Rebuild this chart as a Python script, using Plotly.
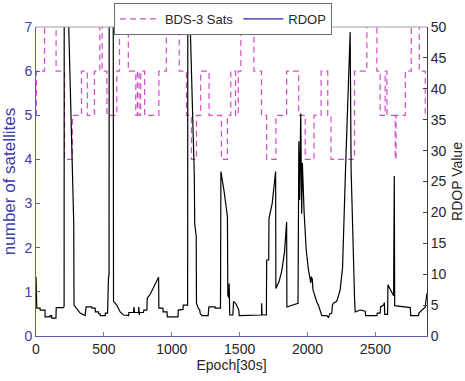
import plotly.graph_objects as go

# ---- data ----
sat_epochs = [0, 3, 63, 148, 210, 268, 335, 378, 430, 470, 487, 522, 595, 615, 680,
              735, 747, 759, 771, 800, 905, 960, 1055, 1108, 1145, 1182, 1213, 1275,
              1366, 1410, 1435, 1470, 1490, 1509, 1605, 1661, 1699, 1767, 1846, 1935,
              1983, 2048, 2100, 2149, 2173, 2346, 2437, 2511, 2535, 2572, 2585, 2646,
              2652, 2720, 2764, 2823, 2867, 2880]
sat_counts = [5, 6, 8, 6, 4, 5, 6, 5, 6, 8, 6, 5, 6, 8, 6,
              5, 6, 5, 6, 5, 6, 8, 6, 5, 4, 5, 6, 5,
              4, 5, 6, 5, 6, 8, 6, 5, 4, 5, 6, 5,
              4, 5, 6, 5, 4, 6, 8, 6, 5, 6, 5, 4,
              5, 6, 8, 6, 5, 5]

rdop_epochs = [0, 6, 30, 31, 66, 67, 103, 104, 115, 116, 147, 149, 202, 207, 209, 230, 240,
               268, 272, 278, 280, 300, 325, 362, 369, 411, 412, 436, 437, 460, 461, 472,
               473, 510, 511, 527, 529, 534, 538, 541, 566, 571, 595, 620, 645, 682, 684,
               718, 722, 726, 755, 757, 761, 763, 792, 794, 817, 819, 842, 870, 903, 905,
               935, 937, 965, 967, 1046, 1048, 1083, 1085, 1117, 1120, 1128, 1135, 1166,
               1169, 1180, 1182, 1195, 1206, 1210, 1223, 1268, 1273, 1319, 1320, 1359,
               1362, 1385, 1410, 1413, 1420, 1423, 1427, 1450, 1455, 1470, 1484, 1494,
               1497, 1607, 1609, 1661, 1662, 1665, 1697, 1699, 1714, 1716, 1740, 1765,
               1767, 1790, 1810, 1830, 1846, 1848, 1930, 1936, 1942, 1950, 1957, 1962,
               1975, 1990, 2006, 2018, 2024, 2028, 2035, 2040, 2055, 2068, 2080, 2092,
               2105, 2142, 2154, 2166, 2179, 2183, 2191, 2215, 2240, 2258, 2270, 2280,
               2314, 2321, 2346, 2351, 2388, 2425, 2428, 2511, 2514, 2535, 2538, 2560,
               2566, 2569, 2590, 2592, 2634, 2639, 2642, 2720, 2757, 2760, 2818, 2820,
               2843, 2868, 2870, 2880]
rdop_values = [9.6, 4.5, 4.5, 4.2, 4.2, 3.1, 3.1, 3.3, 3.3, 2.9, 2.9, 4.6, 4.6, 4.8, 120, 110, 51,
               25, 20.4, 18.2, 5.0, 4.5, 3.7, 3.3, 4.7, 4.7, 4.5, 4.5, 3.9, 3.9, 3.6, 3.6,
               3.3, 3.3, 3.7, 3.7, 9.1, 9.5, 9.8, 120, 120, 5.6, 5.0, 3.9, 3.4, 3.3, 3.8,
               3.8, 4.7, 3.8, 3.8, 4.7, 3.4, 3.8, 3.8, 4.2, 4.2, 6.1, 6.8, 8.0, 9.5, 4.5,
               4.5, 3.9, 3.9, 3.1, 3.1, 4.2, 4.3, 5.0, 5.0, 120, 110, 51, 26,
               18.2, 16.1, 5.3, 4.5, 4.2, 3.6, 3.3, 3.3, 4.7, 4.7, 4.5, 4.5,
               26.6, 23.5, 19.3, 6.6, 6.2, 8.5, 3.4, 3.4, 5.6, 5.3, 4.7, 4.2,
               3.3, 3.3, 3.4, 3.4, 5.3, 3.4, 3.4, 12.3, 12.3, 19.0, 21.5, 26.6,
               7.7, 8.8, 10.5, 13.5, 18.5, 4.7, 5.3, 31.5, 22, 36, 19.8, 28,
               20, 14, 10.8, 9.6, 8.6, 9.6, 9.2, 7.5, 6.3, 5.5, 5.0, 4.2,
               3.3, 3.3, 3.0, 3.6, 3.7, 5.0, 5.3, 5.6, 7.4, 11, 18, 27,
               49.2, 27, 6.4, 3.9, 4.2, 4.0, 3.3, 3.3, 3.7, 3.7, 4.7, 5.0,
               5.4, 3.5, 3.5, 8.3, 6.5, 25.9, 4.9, 4.7, 4.6, 3.3, 3.3, 3.7,
               4.2, 4.7, 5.3, 6.9]

x_ticks = [0, 500, 1000, 1500, 2000, 2500]
left_ticks = [0, 1, 2, 3, 4, 5, 6, 7]
right_ticks = [0, 5, 10, 15, 20, 25, 30, 35, 40, 45, 50]

BLUE = "#3c3cac"
BLUE_LINE = "#5a5ab8"
MAGENTA = "#d24fc8"
FONT = "Arial, Liberation Sans, sans-serif"

fig = go.Figure()
fig.add_trace(go.Scatter(
    x=sat_epochs, y=sat_counts, mode="lines", name="BDS-3 Sats",
    line=dict(color=MAGENTA, width=1.2, dash="6px,4px", shape="hv"),
    yaxis="y"))
fig.add_trace(go.Scatter(
    x=rdop_epochs, y=rdop_values, mode="lines", name="RDOP", showlegend=False,
    line=dict(color="black", width=1.2), yaxis="y2"))
fig.add_trace(go.Scatter(
    x=[None], y=[None], mode="lines", name="RDOP",
    line=dict(color="#2a2a9a", width=1.1), yaxis="y2"))

fig.update_layout(
    width=465, height=381,
    margin=dict(l=36, r=38, t=27, b=45, autoexpand=False),
    paper_bgcolor="white", plot_bgcolor="white",
    font=dict(family=FONT, size=14, color="#262626"),
    showlegend=True,
    legend=dict(orientation="h", x=0.478, xanchor="center", y=1.078, yanchor="top",
                bordercolor="#6e6e6e", borderwidth=1, bgcolor="white",
                font=dict(size=13, color="#262626"),
                itemwidth=40, tracegroupgap=0),
    xaxis=dict(range=[0, 2880], tickvals=x_ticks, ticks="inside", ticklen=4,
               tickcolor="#7a7a7a", showline=True, linecolor=BLUE_LINE, linewidth=1,
               showgrid=False, zeroline=False, automargin=False,
               title=dict(text="Epoch[30s]", standoff=2, font=dict(size=14)),
               tickfont=dict(size=14, color="#262626")),
    yaxis=dict(range=[0, 7], tickvals=left_ticks, ticks="inside", ticklen=4,
               tickcolor=BLUE_LINE, showline=True, linecolor=BLUE_LINE, linewidth=1,
               showgrid=False, zeroline=False, automargin=False,
               tickfont=dict(size=14, color=BLUE),
               title=dict(text="number of satellites", standoff=4,
                          font=dict(size=17, color=BLUE))),
    yaxis2=dict(range=[0, 50], tickvals=right_ticks, overlaying="y", side="right",
                ticks="inside", ticklen=4, tickcolor="#404040",
                showline=True, linecolor="#404040", linewidth=1,
                showgrid=False, zeroline=False, automargin=False,
                tickfont=dict(size=14, color="#262626"),
                title=dict(text="RDOP Value", standoff=11,
                           font=dict(size=14, color="#262626"))),
    shapes=[dict(type="line", xref="paper", yref="paper", x0=0, x1=1, y0=1, y1=1,
                 line=dict(color="#a0a0a0", width=1))],
)

fig.write_html("out.html", config={"displayModeBar": False},
               post_script="document.body.style.margin='0px';document.body.style.overflow='hidden';")
